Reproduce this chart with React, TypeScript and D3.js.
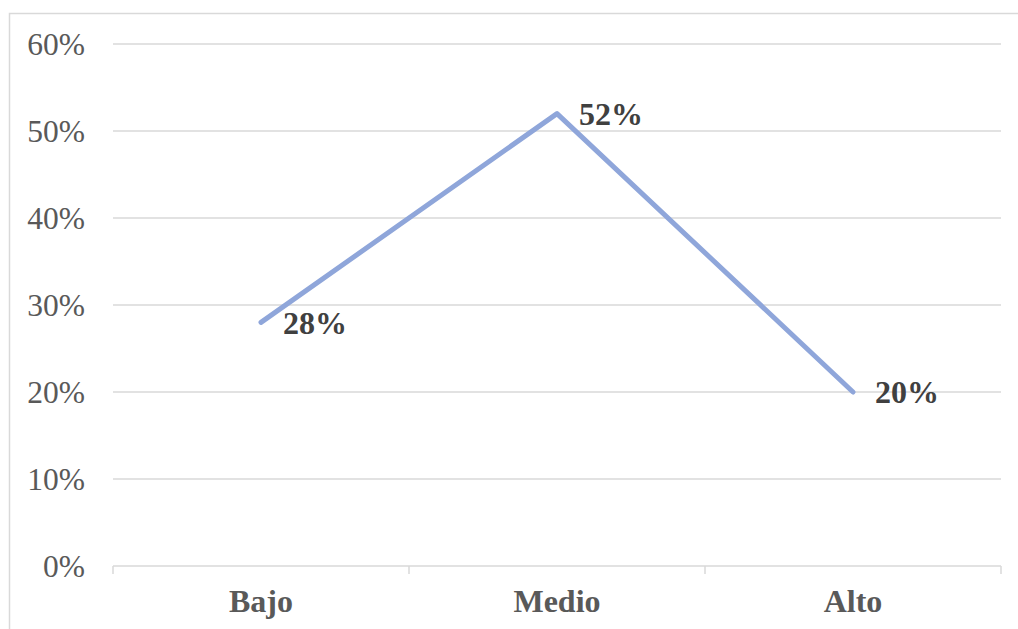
import React from "react";
import * as d3 from "d3";

const categories = ["Bajo", "Medio", "Alto"];
const values = [0.28, 0.52, 0.2];
const yTicks = [0, 0.1, 0.2, 0.3, 0.4, 0.5, 0.6];

const W = 1018;
const H = 629;
const left = 113;
const right = 1001;
const top = 44;
const bottom = 566;

export default function App() {
  const x = d3.scaleBand<string>().domain(categories).range([left, right]);
  const y = d3.scaleLinear().domain([0, 0.6]).range([bottom, top]);
  const fmt = d3.format(".0%");
  const pts: [number, number][] = categories.map((c, i) => [x(c)! + x.bandwidth() / 2, y(values[i])]);
  const line = d3.line()(pts) || "";
  const tickXs = [...categories.map((c) => x(c)!), right];
  return (
    <svg
      width={W}
      height={H}
      style={{ position: "absolute", left: 0, top: 0, background: "#fff" }}
      fontFamily="'Liberation Serif', 'Times New Roman', serif"
    >
      <rect x={9.5} y={13.5} width={W + 20} height={H + 20} fill="#fff" stroke="#d9d9d9" strokeWidth={1.5} />
      {yTicks.slice(1).map((t) => (
        <line key={t} x1={left} x2={right} y1={y(t)} y2={y(t)} stroke="#d9d9d9" strokeWidth={1.5} />
      ))}
      <line x1={left} x2={right} y1={bottom} y2={bottom} stroke="#d9d9d9" strokeWidth={1.5} />
      {tickXs.map((tx, i) => (
        <line key={i} x1={tx} x2={tx} y1={bottom} y2={bottom + 8} stroke="#d9d9d9" strokeWidth={1.5} />
      ))}
      {yTicks.map((t) => (
        <text key={t} x={85} y={y(t)} dy="0.35em" textAnchor="end" fontSize={31.5} fill="#595959">
          {fmt(t)}
        </text>
      ))}
      {categories.map((c) => (
        <text
          key={c}
          x={x(c)! + x.bandwidth() / 2}
          y={612}
          textAnchor="middle"
          fontSize={32}
          fontWeight="bold"
          fill="#595959"
        >
          {c}
        </text>
      ))}
      <path d={line} fill="none" stroke="#8FA6DA" strokeWidth={5} strokeLinecap="round" strokeLinejoin="round" />
      {pts.map((p, i) => (
        <text key={i} x={p[0] + 22} y={p[1]} dy="0.35em" fontSize={32} fontWeight="bold" fill="#404040">
          {fmt(values[i])}
        </text>
      ))}
    </svg>
  );
}
